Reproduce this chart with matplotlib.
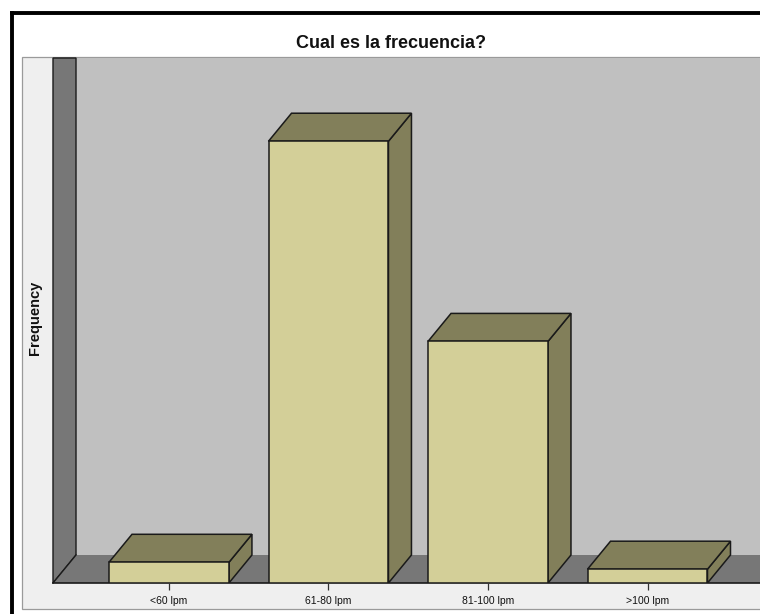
import matplotlib
matplotlib.use("Agg")
import matplotlib.pyplot as plt
from matplotlib.patches import Polygon, Rectangle
from matplotlib.lines import Line2D

# Data
categories = ["<60 lpm", "61-80 lpm", "81-100 lpm", ">100 lpm"]
frequencies = [3, 64, 35, 2]

title = "Cual es la frecuencia?"
ylabel = "Frequency"

# Canvas (pixel layout, origin at top-left)
W, H, DPI = 760, 614, 100
plt.rcParams["font.family"] = ["Liberation Sans", "DejaVu Sans"]

FRONT = "#d3cf98"
SHADE = "#827f5a"
WALL = "#777777"
BACK = "#c0c0c0"
PANEL = "#efefef"
EDGE = "#1a1a1a"

fig = plt.figure(figsize=(W / DPI, H / DPI), dpi=DPI)
fig.patch.set_facecolor("white")


def fbox(x0, y0, x1, y1):
    return [x0 / W, 1 - y1 / H, (x1 - x0) / W, (y1 - y0) / H]


# chart panel (behind the axes)
b = fbox(22, 57, 770, 609)
fig.add_artist(Rectangle((b[0], b[1]), b[2], b[3], transform=fig.transFigure,
                         facecolor=PANEL, edgecolor="#9a9a9a", lw=0.9, zorder=-5))

# outer frame (heavy black line on left and top)
fig.add_artist(Line2D([11.5 / W, 11.5 / W], [-0.05, 1 - 12.5 / H],
                      transform=fig.transFigure, color="black", lw=2.8,
                      solid_capstyle="projecting", zorder=5))
fig.add_artist(Line2D([11.5 / W, 1.05], [1 - 12.5 / H, 1 - 12.5 / H],
                      transform=fig.transFigure, color="black", lw=2.8,
                      solid_capstyle="projecting", zorder=5))

# plotting axes = front plane of the 3D box
AX_L, AX_T, AX_R, AX_B = 53, 86, 737, 583
DX, DY = 23, 28  # depth offset in pixels (right, up)
ax = fig.add_axes(fbox(AX_L, AX_T, AX_R, AX_B))
ax.set_zorder(2)
ax.patch.set_visible(False)
for s in ax.spines.values():
    s.set_visible(False)

x_lo, x_hi = -0.727, 3.561
y_lo, y_hi = 0, 72
ax.set_xlim(x_lo, x_hi)
ax.set_ylim(y_lo, y_hi)

sx = DX / (AX_R - AX_L)
sy = DY / (AX_B - AX_T)
ddx = sx * (x_hi - x_lo)
ddy = sy * (y_hi - y_lo)
right_ext = 1 + sx + 0.02

T = ax.transAxes
# back wall
ax.add_patch(Polygon([(sx, sy), (right_ext, sy), (right_ext, 1 + sy), (sx, 1 + sy)],
                     closed=True, transform=T, facecolor=BACK, edgecolor="none",
                     clip_on=False, zorder=0.5))
# left wall
ax.add_patch(Polygon([(0, 0), (sx, sy), (sx, 1 + sy), (0, 1 + sy)],
                     closed=True, transform=T, facecolor=WALL, edgecolor=EDGE,
                     lw=1.0, clip_on=False, zorder=0.6))
# floor
ax.add_patch(Polygon([(0, 0), (right_ext, 0), (right_ext, sy), (sx, sy)],
                     closed=True, transform=T, facecolor=WALL, edgecolor="none",
                     clip_on=False, zorder=0.6))
ax.add_artist(Line2D([0, right_ext], [0, 0], transform=T, color=EDGE,
                     lw=1.2, clip_on=False, zorder=0.7))
ax.add_artist(Line2D([0, sx], [0, sy], transform=T, color=EDGE,
                     lw=1.0, clip_on=False, zorder=0.7))

# bars: front face via ax.bar, top and side faces as parallelograms
width = 0.752
xs = list(range(len(categories)))
ax.bar(xs, frequencies, width=width, color=FRONT, edgecolor=EDGE,
       linewidth=1.1, zorder=3)
for x, h in zip(xs, frequencies):
    x0, x1 = x - width / 2, x + width / 2
    top = [(x0, h), (x1, h), (x1 + ddx, h + ddy), (x0 + ddx, h + ddy)]
    side = [(x1, 0), (x1, h), (x1 + ddx, h + ddy), (x1 + ddx, ddy)]
    ax.add_patch(Polygon(side, closed=True, facecolor=SHADE, edgecolor=EDGE,
                         lw=1.1, joinstyle="miter", zorder=2.5))
    ax.add_patch(Polygon(top, closed=True, facecolor=SHADE, edgecolor=EDGE,
                         lw=1.1, joinstyle="miter", zorder=2.6))

ax.set_xticks(xs)
ax.set_xticklabels(categories, fontsize=7.5, color="#111111")
ax.tick_params(axis="x", direction="out", length=5, width=0.9,
               color="#333333", pad=4)
ax.set_yticks([])

fig.text(35 / W, 1 - 318 / H, ylabel, rotation=90, ha="center", va="center",
         fontsize=10.5, fontweight="bold", color="#111111")
fig.text(391 / W, 1 - 43 / H, title, ha="center", va="center",
         fontsize=13, fontweight="bold", color="#111111")

fig.savefig("out.png", dpi=DPI, facecolor=fig.get_facecolor())
